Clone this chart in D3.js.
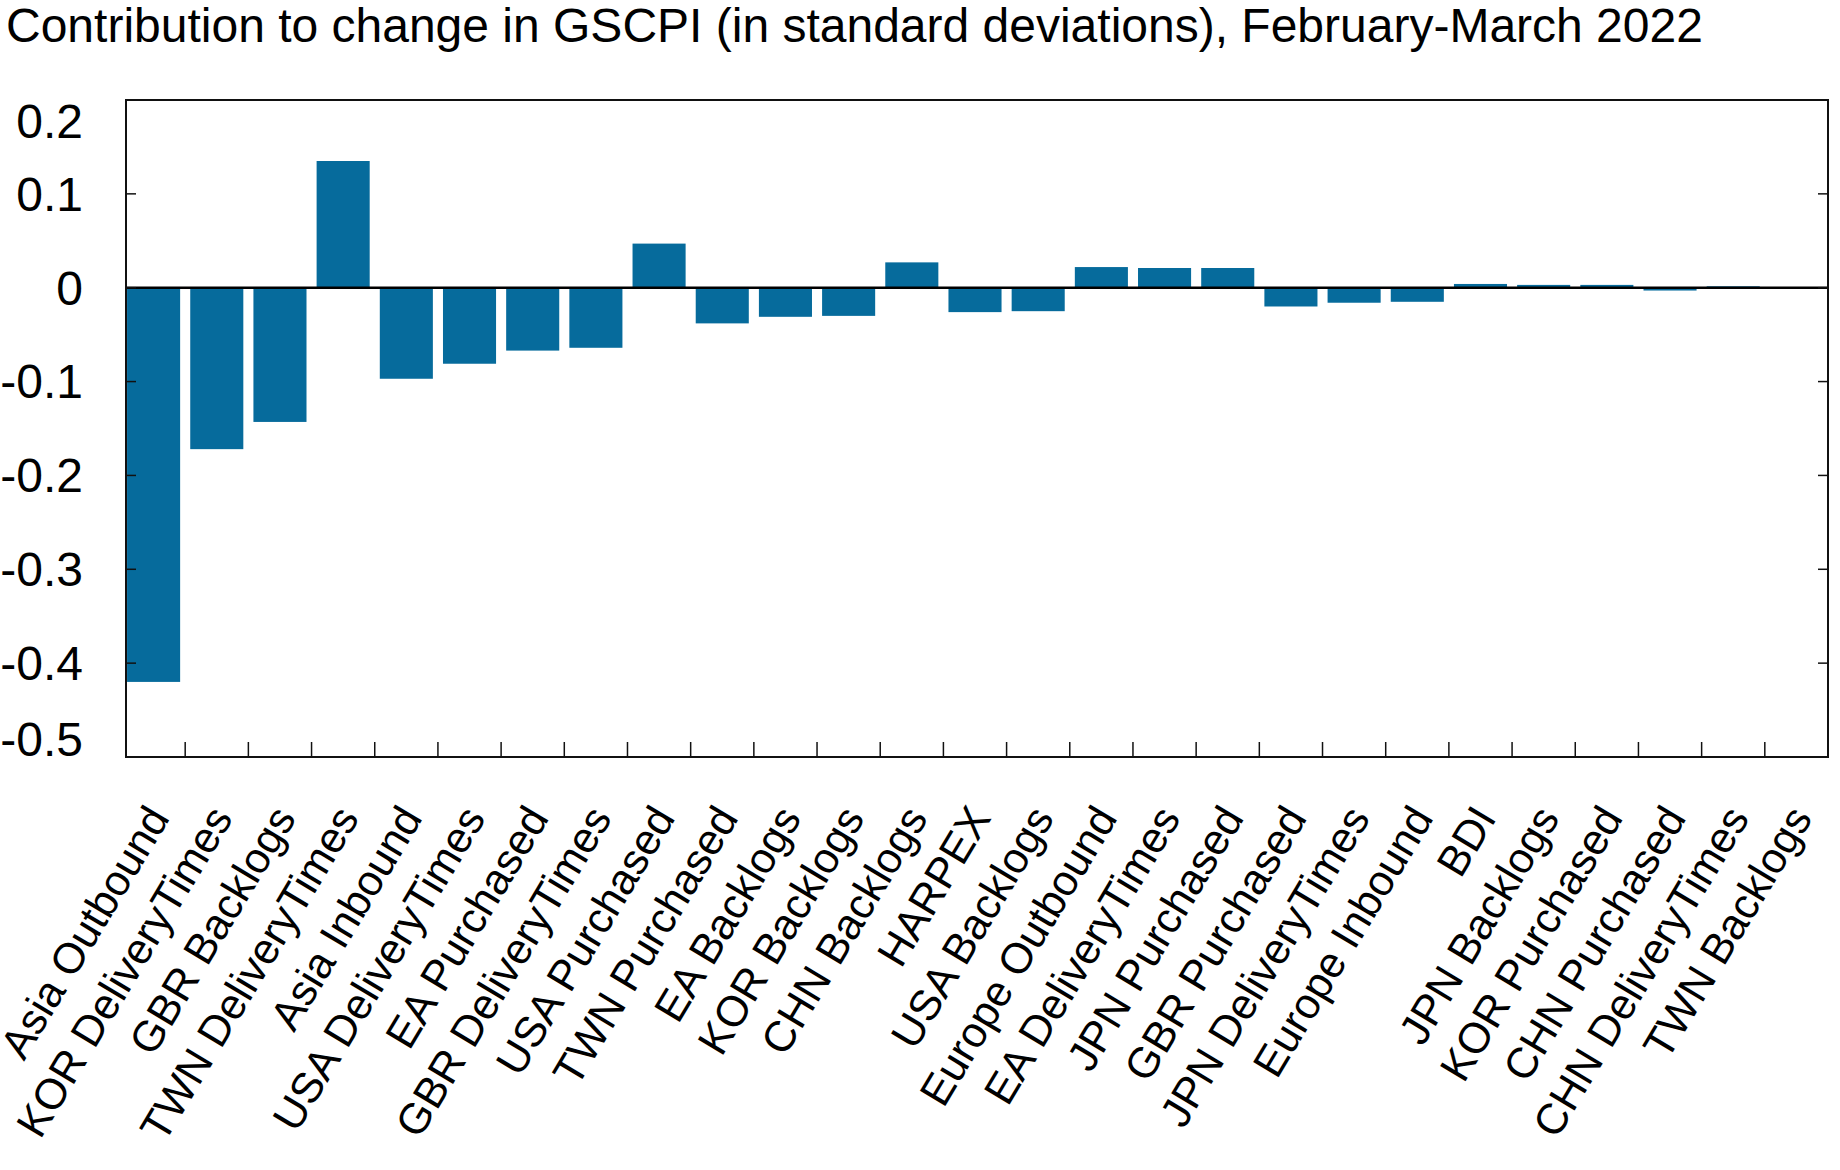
<!DOCTYPE html>
<html lang="en">
<head>
<meta charset="utf-8">
<title>GSCPI contributions</title>
<script src="https://d3js.org/d3.v7.min.js"></script>
<style>
body {
    margin: 0;
    background-color: white;
    font-family: "Liberation Sans", Arial, sans-serif;
}
.bar {
    fill: #066b9c;
}
.frame {
    fill: none;
    stroke: #111;
    stroke-width: 2;
}
.tick-line {
    stroke: #111;
    stroke-width: 1.5;
}
.zero {
    stroke: #000;
    stroke-width: 2.5;
}
</style>
</head>
<body>
<div id="chart"></div>
<script>
var title = "Contribution to change in GSCPI (in standard deviations), February-March 2022";

var categories = ["Asia Outbound", "KOR DeliveryTimes", "GBR Backlogs", "TWN DeliveryTimes",
    "Asia Inbound", "USA DeliveryTimes", "EA Purchased", "GBR DeliveryTimes", "USA Purchased",
    "TWN Purchased", "EA Backlogs", "KOR Backlogs", "CHN Backlogs", "HARPEX", "USA Backlogs",
    "Europe Outbound", "EA DeliveryTimes", "JPN Purchased", "GBR Purchased", "JPN DeliveryTimes",
    "Europe Inbound", "BDI", "JPN Backlogs", "KOR Purchased", "CHN Purchased",
    "CHN DeliveryTimes", "TWN Backlogs"];

var values = [-0.420, -0.172, -0.143, 0.135, -0.097, -0.081, -0.067, -0.064, 0.047,
    -0.038, -0.031, -0.030, 0.027, -0.026, -0.025, 0.022, 0.021, 0.021, -0.020,
    -0.016, -0.015, 0.004, 0.003, 0.003, -0.003, 0.0015, 0.0005];

var yTicks = [0.2, 0.1, 0, -0.1, -0.2, -0.3, -0.4, -0.5];
var yTickLabels = ["0.2", "0.1", "0", "-0.1", "-0.2", "-0.3", "-0.4", "-0.5"];

function draw() {
    var width = 1840, height = 1170;
    var left = 126, right = 1828, plotTop = 100, plotBottom = 757;

    var svg = d3.select("#chart").append("svg")
        .attr("width", width).attr("height", height);

    var x = d3.scaleBand()
        .domain(categories)
        .range([left - 4, right])
        .paddingInner(0.16)
        .paddingOuter(0.08);

    var y = d3.scaleLinear()
        .domain([-0.5, 0.2])
        .range([plotBottom, plotTop]);

    // title
    svg.append("text")
        .attr("x", 6).attr("y", 42)
        .style("font-size", "48px")
        .text(title);

    // bars
    svg.selectAll(".bar").data(values).enter().append("rect")
        .attr("class", "bar")
        .attr("x", function(d, i) { return x(categories[i]); })
        .attr("width", x.bandwidth())
        .attr("y", function(d) { return y(Math.max(0, d)); })
        .attr("height", function(d) { return Math.abs(y(d) - y(0)); });

    // zero line
    svg.append("line").attr("class", "zero")
        .attr("x1", left).attr("x2", right)
        .attr("y1", y(0)).attr("y2", y(0));

    // y ticks, inside on both sides
    var inner = yTicks.filter(function(d) { return d != 0.2 && d != -0.5; });
    svg.selectAll(".ytick-l").data(inner).enter().append("line")
        .attr("class", "tick-line")
        .attr("x1", left).attr("x2", left + 10)
        .attr("y1", function(d) { return y(d); }).attr("y2", function(d) { return y(d); });
    svg.selectAll(".ytick-r").data(inner).enter().append("line")
        .attr("class", "tick-line")
        .attr("x1", right - 10).attr("x2", right)
        .attr("y1", function(d) { return y(d); }).attr("y2", function(d) { return y(d); });

    // y labels; the two end labels are pulled inside the frame
    svg.selectAll(".ylab").data(yTicks).enter().append("text")
        .attr("class", "ylab")
        .attr("x", 83)
        .attr("y", function(d) {
            var off = d == 0.2 ? 21 : (d == -0.5 ? -18 : 0);
            return y(d) + off;
        })
        .attr("dy", "0.35em")
        .attr("text-anchor", "end")
        .style("font-size", "48px")
        .text(function(d, i) { return yTickLabels[i]; });

    // x ticks at the band boundaries
    var gap = (x.step() - x.bandwidth()) / 2;
    svg.selectAll(".xtick").data(categories.slice(1)).enter().append("line")
        .attr("class", "tick-line")
        .attr("x1", function(d) { return x(d) - gap; })
        .attr("x2", function(d) { return x(d) - gap; })
        .attr("y1", plotBottom).attr("y2", plotBottom - 15);

    // x labels, rotated
    svg.selectAll(".xlab").data(categories).enter().append("text")
        .attr("class", "xlab")
        .attr("text-anchor", "end")
        .attr("transform", function(d) {
            return "translate(" + (x(d) + x.bandwidth() / 2 + 17) + ",818) rotate(-59)";
        })
        .style("font-size", "43px")
        .text(function(d) { return d; });

    // frame
    svg.append("rect").attr("class", "frame")
        .attr("x", left).attr("y", plotTop)
        .attr("width", right - left).attr("height", plotBottom - plotTop);
}

draw();
</script>
</body>
</html>
